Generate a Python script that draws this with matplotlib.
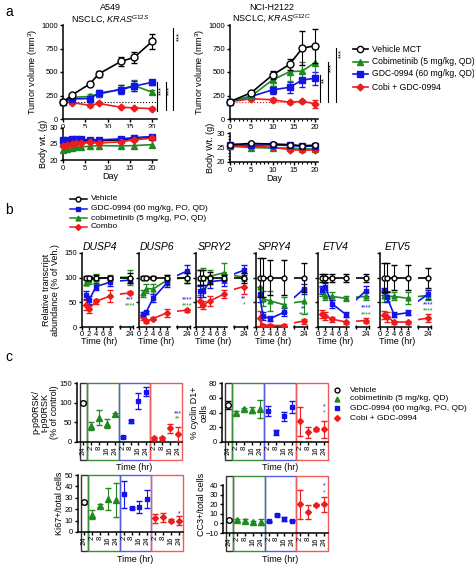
import numpy as np
import matplotlib
matplotlib.use("Agg")
import matplotlib.pyplot as plt
from matplotlib.patches import Rectangle
import matplotlib.transforms as mtransforms

plt.rcParams['font.family'] = ['Liberation Sans', 'DejaVu Sans']
plt.rcParams['mathtext.fontset'] = 'custom'
plt.rcParams['mathtext.rm'] = 'Liberation Sans'
plt.rcParams['mathtext.it'] = 'Liberation Sans:italic'
plt.rcParams['font.size'] = 6

GREEN = '#1f8a1f'
BLUE = '#1414e6'
RED = '#ee1c1c'

# ---- panel a data ----
a549_days = [0, 2, 6, 8, 13, 16, 20]
a549_veh = [178, 255, 372, 479, 612, 656, 825]
a549_veh_err = [10, 15, 25, 35, 50, 55, 75]
a549_gdc = [180, 213, 218, 275, 312, 350, 390]
a549_gdc_err = [15, 15, 30, 30, 45, 55, 30]
a549_cobi = [180, 230, 240, 262, 320, 355, 285]
a549_cobi_err = [15, 20, 25, 30, 45, 60, 20]
a549_combo = [180, 175, 145, 165, 125, 118, 110]
a549_combo_err = [15, 15, 15, 10, 10, 10, 15]

a549_bw_days = [0, 1, 2, 3, 4, 6, 8, 13, 16, 20]
a549_bw_veh = [25.6, 25.8, 26.0, 26.0, 26.0, 26.0, 26.0, 26.3, 26.8, 27.2]
a549_bw_gdc = [26.1, 26.2, 26.5, 26.5, 26.5, 26.3, 26.3, 26.6, 27.0, 27.3]
a549_bw_cobi = [23.0, 23.4, 23.8, 24.0, 24.1, 24.3, 24.5, 24.4, 24.5, 24.8]
a549_bw_combo = [24.5, 24.8, 25.0, 25.2, 25.2, 25.5, 25.3, 25.7, 26.3, 26.8]

h2122_days = [0, 5, 10, 14, 17, 20]
h2122_veh = [185, 280, 468, 581, 752, 780]
h2122_veh_err = [15, 20, 40, 60, 180, 180]
h2122_cobi = [185, 245, 415, 503, 510, 600]
h2122_cobi_err = [15, 20, 60, 100, 100, 140]
h2122_gdc = [185, 240, 310, 337, 415, 433]
h2122_gdc_err = [15, 20, 40, 60, 70, 70]
h2122_combo = [185, 215, 205, 178, 188, 162]
h2122_combo_err = [15, 15, 20, 15, 15, 40]

h2122_bw_veh = [26.0, 26.4, 26.2, 26.0, 25.6, 25.8]
h2122_bw_gdc = [26.0, 25.8, 25.9, 25.7, 25.4, 25.5]
h2122_bw_cobi = [25.4, 25.0, 24.8, 24.8, 24.5, 24.5]
h2122_bw_combo = [25.6, 25.4, 25.1, 24.3, 24.0, 24.2]

# ---- panel b data ----
genes = ['DUSP4', 'DUSP6', 'SPRY2', 'SPRY4', 'ETV4', 'ETV5']
b_times = [1, 2, 4, 8, 24]
b_veh = {g: [100, 100, 100, 100, 100] for g in genes}
b_veh_err = {'DUSP4': [3, 3, 5, 3, 10], 'DUSP6': [3, 3, 3, 5, 10], 'SPRY2': [15, 15, 12, 5, 10],
             'SPRY4': [40, 40, 35, 35, 30], 'ETV4': [8, 8, 8, 8, 8], 'ETV5': [30, 30, 25, 25, 20]}
b_gdc = {'DUSP4': [65, 55, 82, 91, 95], 'DUSP6': [27, 30, 58, 90, 113], 'SPRY2': [72, 73, 92, 95, 115],
         'SPRY4': [66, 22, 17, 30, 77], 'ETV4': [75, 82, 47, 25, 73], 'ETV5': [72, 60, 25, 29, 66]}
b_gdc_err = {'DUSP4': [8, 8, 8, 8, 5], 'DUSP6': [3, 3, 8, 8, 12], 'SPRY2': [12, 12, 12, 12, 10],
             'SPRY4': [15, 8, 5, 8, 10], 'ETV4': [8, 8, 8, 5, 10], 'ETV5': [8, 10, 5, 5, 10]}
b_cobi = {'DUSP4': [90, 95, 98, 100, 101], 'DUSP6': [68, 78, 77, 95, 100], 'SPRY2': [100, 100, 103, 110, 101],
          'SPRY4': [82, 57, 53, 45, 52], 'ETV4': [72, 62, 62, 58, 62], 'ETV5': [62, 62, 62, 58, 64]}
b_cobi_err = {'DUSP4': [5, 8, 10, 5, 15], 'DUSP6': [8, 10, 10, 10, 10], 'SPRY2': [15, 20, 12, 20, 8],
              'SPRY4': [20, 15, 20, 15, 25], 'ETV4': [10, 8, 8, 5, 8], 'ETV5': [12, 10, 8, 12, 10]}
b_combo = {'DUSP4': [45, 37, 52, 63, 69], 'DUSP6': [20, 12, 17, 29, 34], 'SPRY2': [52, 45, 53, 67, 82],
           'SPRY4': [18, 3, 3, 3, 12], 'ETV4': [27, 22, 16, 10, 13], 'ETV5': [24, 21, 10, 10, 18]}
b_combo_err = {'DUSP4': [10, 8, 5, 12, 3], 'DUSP6': [5, 3, 3, 8, 3], 'SPRY2': [12, 8, 10, 8, 15],
               'SPRY4': [15, 3, 3, 3, 5], 'ETV4': [8, 8, 5, 3, 5], 'ETV5': [8, 10, 3, 3, 8]}
b_stars_blue = {'DUSP4': ('***', 54), 'DUSP6': ('****', 55), 'SPRY2': ('**', 57),
                'SPRY4': ('**', 37), 'ETV4': ('****', 38), 'ETV5': ('****', 45)}
b_stars_green = {'DUSP4': ('****', 42), 'DUSP6': ('****', 43), 'SPRY2': ('*', 45),
                 'SPRY4': ('****', 24), 'ETV4': ('****', 24), 'ETV5': ('****', 32)}

# ---- panel c data ----
c_ticklabels = ['24', '2', '8', '16', '24', '2', '8', '16', '24', '2', '8', '16', '24']
rsk_veh, rsk_veh_err = [100], [4]
rsk_cobi, rsk_cobi_err = [40, 62, 47, 70], [10, 20, 12, 5]
rsk_gdc, rsk_gdc_err = [13, 53, 105, 128], [3, 4, 20, 12]
rsk_combo, rsk_combo_err = [9, 9, 35, 20], [4, 3, 12, 17]

cyc_veh, cyc_veh_err = [50], [5]
cyc_cobi, cyc_cobi_err = [40, 45, 44, 45], [2, 1.5, 4, 12]
cyc_gdc, cyc_gdc_err = [42, 13, 35, 48], [7, 3, 6, 8]
cyc_combo, cyc_combo_err = [28, 13, 17, 17], [20, 8, 2, 12]

ki_veh, ki_veh_err = [26], [1]
ki_cobi, ki_cobi_err = [15, 23, 29, 28], [4, 1.5, 10, 15]
ki_gdc, ki_gdc_err = [33, 21, 22, 29], [12, 1, 5, 8]
ki_combo, ki_combo_err = [12, 13, 10, 10], [4, 4, 1, 4]

cc3_veh, cc3_veh_err = [4], [1]
cc3_cobi, cc3_cobi_err = [3.5, 3, 1, 1.5], [1.5, 2, 1.5, 3]
cc3_gdc, cc3_gdc_err = [2, 9, 4.5, 3], [1, 1, 2, 1]
cc3_combo, cc3_combo_err = [20, 12, 19, 20], [15, 7, 1, 8]

W, H = 474, 568
fig = plt.figure(figsize=(W / 100, H / 100), dpi=100)


def px_ax(x0, y0, x1, y1):
    return fig.add_axes([x0 / W, 1 - y1 / H, (x1 - x0) / W, (y1 - y0) / H])


def ftext(x, y, s, **kw):
    fig.text(x / W, 1 - y / H, s, **kw)


def style(ax):
    for s in ['top', 'right']:
        ax.spines[s].set_visible(False)
    for s in ['left', 'bottom']:
        ax.spines[s].set_linewidth(1.1)
    ax.tick_params(length=2.5, width=1, pad=1, labelsize=5.5)


def draw(ax, x, y, e, color, marker, ms, mfc=None, ls='-', z=3, clip=False):
    ax.errorbar(x, y, yerr=e, color=color, marker=marker, ms=ms, ls=ls,
                mfc=mfc or color, mec=color, mew=1, lw=1.2,
                elinewidth=0.8, capsize=2, capthick=0.8, clip_on=clip, zorder=z)


# ================= panel a =================
ftext(5, 12, 'a', fontsize=10, va='center')
ftext(110, 8, 'A549', fontsize=6.5, ha='center', va='center')
ftext(110, 20, r'NSCLC, $\mathit{KRAS}^{\mathit{G12S}}$', fontsize=6.5, ha='center', va='center')
ftext(272, 7, 'NCI-H2122', fontsize=6.5, ha='center', va='center')
ftext(272, 19, r'NSCLC, $\mathit{KRAS}^{\mathit{G12C}}$', fontsize=6.5, ha='center', va='center')

# A549 tumour
ax = px_ax(63, 25, 157, 119)
style(ax)
ax.set_xlim(0, 21.1)
ax.set_ylim(0, 1000)
ax.set_xticks([0, 5, 10, 15, 20])
ax.set_yticks([0, 250, 500, 750, 1000])
ax.axhline(180, color='k', ls=':', lw=0.8, zorder=1)
draw(ax, a549_days, a549_combo, a549_combo_err, RED, 'D', 3.5)
draw(ax, a549_days, a549_cobi, a549_cobi_err, GREEN, '^', 4.5)
draw(ax, a549_days, a549_gdc, a549_gdc_err, BLUE, 's', 4.5)
draw(ax, a549_days, a549_veh, a549_veh_err, 'k', 'o', 5, mfc='white', z=4)
ax.set_ylabel('Tumor volume (mm$^3$)', fontsize=6.5, labelpad=1)
for xl, y0, y1, xs, ys in [(21.2, 390, 80, 22.1, 300), (23.1, 390, 95, 24.0, 300),
                           (24.8, 970, 95, 26.2, 880)]:
    ax.plot([xl, xl], [y0, y1], color='k', lw=0.8, clip_on=False)
    ax.text(xs, ys, '***', rotation=90, ha='center', va='center', fontsize=5.5)

# A549 body weight
ax = px_ax(63, 128, 157, 160)
style(ax)
ax.set_xlim(0, 21.1)
ax.set_ylim(20, 30)
ax.set_xticks([0, 5, 10, 15, 20])
ax.set_yticks([20, 25, 30])
draw(ax, a549_bw_days, a549_bw_cobi, None, GREEN, '^', 4)
draw(ax, a549_bw_days, a549_bw_veh, None, 'k', 'o', 4, mfc='white')
draw(ax, a549_bw_days, a549_bw_gdc, None, BLUE, 's', 4.5)
draw(ax, a549_bw_days, a549_bw_combo, None, RED, 'D', 3.5)
ax.set_ylabel('Body wt. (g)', fontsize=6.5, labelpad=1)
ax.set_xlabel('Day', fontsize=6.5, labelpad=0)

# H2122 tumour
ax = px_ax(230, 25, 318, 119)
style(ax)
ax.set_xlim(0, 20.7)
ax.set_ylim(0, 1000)
ax.set_xticks([0, 5, 10, 15, 20])
ax.set_xticks(np.arange(0, 21), minor=True)
ax.tick_params(which='minor', length=1.5, width=0.8)
ax.set_yticks([0, 250, 500, 750, 1000])
ax.axhline(185, color=RED, ls=':', lw=0.8, zorder=1)
draw(ax, h2122_days, h2122_combo, h2122_combo_err, RED, 'D', 3.5)
draw(ax, h2122_days, h2122_gdc, h2122_gdc_err, BLUE, 's', 4.5)
draw(ax, h2122_days, h2122_cobi, h2122_cobi_err, GREEN, '^', 4.5)
draw(ax, h2122_days, h2122_veh, h2122_veh_err, 'k', 'o', 5, mfc='white', z=4)
ax.set_ylabel('Tumor volume (mm$^3$)', fontsize=6.5, labelpad=1)
for xl, y0, y1, xs, ys, st in [(21.2, 468, 181, 22.2, 415, '**'), (23.1, 606, 181, 24.0, 553, '***'),
                               (24.9, 755, 181, 26.3, 702, '***')]:
    ax.plot([xl, xl], [y0, y1], color='k', lw=0.8, clip_on=False)
    ax.text(xs, ys, st, rotation=90, ha='center', va='center', fontsize=5.5)

# H2122 body weight
ax = px_ax(230, 133, 318, 162)
style(ax)
ax.set_xlim(0, 20.7)
ax.set_ylim(20, 30)
ax.set_xticks([0, 5, 10, 15, 20])
ax.set_xticks(np.arange(0, 21), minor=True)
ax.tick_params(which='minor', length=1.5, width=0.8)
ax.set_yticks([20, 25, 30])
ax.set_yticks(np.arange(20, 31), minor=True)
draw(ax, h2122_days, h2122_bw_cobi, None, GREEN, '^', 4)
draw(ax, h2122_days, h2122_bw_combo, None, RED, 'D', 3.5)
draw(ax, h2122_days, h2122_bw_gdc, None, BLUE, 's', 4.5)
draw(ax, h2122_days, h2122_bw_veh, None, 'k', 'o', 4, mfc='white')
ax.set_ylabel('Body Wt. (g)', fontsize=6.5, labelpad=1)
ax.set_xlabel('Day', fontsize=6.5, labelpad=0)

# legend a
a_leg = [('Vehicle MCT', 'k', 'o', 'white'), ('Cobimetinib (5 mg/kg, QD)', GREEN, '^', None),
         ('GDC-0994 (60 mg/kg, QD)', BLUE, 's', None), ('Cobi + GDC-0994', RED, 'D', None)]
lax = px_ax(0, 0, W, H)
lax.set_xlim(0, W)
lax.set_ylim(H, 0)
lax.axis('off')
for (lab, col, mk, fc), yy in zip(a_leg, [49, 62, 74, 87]):
    lax.plot([353, 368], [yy, yy], color=col, lw=1.2)
    lax.plot([360.5], [yy], marker=mk, color=col, mfc=fc or col, mec=col, ms=4.5 if mk != 'D' else 3.5)
    lax.text(372, yy, lab, fontsize=6.2, va='center')

# ================= panel b =================
ftext(5, 210, 'b', fontsize=10, va='center')
b_leg = [('Vehicle', 'k', 'o', 'white'), ('GDC-0994 (60 mg/kg, PO, QD)', BLUE, 's', None),
         ('cobimetinib (5 mg/kg, PO, QD)', GREEN, '^', None), ('Combo', RED, 'D', None)]
for (lab, col, mk, fc), yy in zip(b_leg, [199, 208.5, 218, 227]):
    lax.plot([70, 87], [yy, yy], color=col, lw=1.1)
    lax.plot([78.5], [yy], marker=mk, color=col, mfc=fc or col, mec=col, ms=3.5 if mk != 'D' else 3)
    lax.text(91, yy, lab, fontsize=6, va='center')

b_x0 = [82, 139, 196, 256, 318, 380]
for i, (g, x0) in enumerate(zip(genes, b_x0)):
    ax1 = px_ax(x0, 253, x0 + 31, 327)
    ax2 = px_ax(x0 + 38, 253, x0 + 51, 327)
    for ax in (ax1, ax2):
        style(ax)
        ax.set_ylim(0, 150)
        draw(ax, b_times, b_combo[g], b_combo_err[g], RED, 'D', 3, clip=True)
        draw(ax, b_times, b_cobi[g], b_cobi_err[g], GREEN, '^', 3.5, clip=True)
        draw(ax, b_times, b_gdc[g], b_gdc_err[g], BLUE, 's', 3.5, clip=True)
        draw(ax, b_times, b_veh[g], b_veh_err[g], 'k', 'o', 3.5, mfc='white', z=4, clip=True)
    ax1.set_xlim(0, 8.8)
    ax1.set_xticks([0, 2, 4, 6, 8])
    ax1.set_yticks([0, 50, 100, 150])
    ax1.tick_params(axis='x', pad=0.5)
    if i > 0:
        ax1.set_yticklabels([])
    ax2.set_xlim(18, 26)
    ax2.set_xticks([24])
    ax2.set_xticks([18, 26], minor=True)
    ax2.tick_params(which='minor', length=3, width=1, direction='inout')
    ax2.tick_params(axis='x', pad=0.5)
    ax2.spines['left'].set_visible(False)
    ax2.set_yticks([])
    st, sy = b_stars_blue[g]
    ax2.text(24, sy, st, color=BLUE, fontsize=5, ha='center', va='center')
    st, sy = b_stars_green[g]
    ax2.text(24, sy, st, color=GREEN, fontsize=5, ha='center', va='center')
    ftext(x0 + 18, 247, g, fontsize=7.5, style='italic', ha='center', va='center')
    ftext(x0 + 17, 342, 'Time (hr)', fontsize=6.5, ha='center', va='center')
ftext(51, 290, 'Relative transcript\nabundance (% of Veh.)', fontsize=6.5, rotation=90,
      ha='center', va='center', linespacing=1.05)

# ================= panel c =================
ftext(5, 357, 'c', fontsize=10, va='center')
c_boxes = [(-0.42, 0.45), (0.45, 4.5), (4.5, 8.5), (8.5, 12.5)]
c_box_colors = ['#333333', '#3a903a', '#5a5ae0', '#f05a5a']


def panel_c(x0, x1, ytop, ybot, boxbot, ylim, yticks, spine_top, ylabel, lab_x,
            veh, vehe, cobi, cobie, gdc, gdce, combo, comboe, stars):
    ax = px_ax(x0, ytop, x1, ybot)
    style(ax)
    ax.set_xlim(-0.76, 12.5)
    ax.set_ylim(*ylim)
    ax.spines['left'].set_bounds(ylim[0], spine_top)
    ax.set_yticks(yticks)
    ax.set_xticks(np.arange(13))
    ax.set_xticklabels(c_ticklabels, rotation=90, fontsize=5.5)
    ax.tick_params(axis='x', length=2, pad=1)
    fb = -(boxbot - ybot) / (ybot - ytop)
    trans = mtransforms.blended_transform_factory(ax.transData, ax.transAxes)
    for (a, b), col in zip(c_boxes, c_box_colors):
        ax.add_patch(Rectangle((a, fb), b - a, 1 - fb, transform=trans, fill=False,
                               ec=col, lw=1, clip_on=False))
    draw(ax, [0], veh, vehe, 'k', 'o', 4, mfc='white', ls='none')
    draw(ax, [1, 2, 3, 4], cobi, cobie, GREEN, '^', 4, ls='none')
    draw(ax, [5, 6, 7, 8], gdc, gdce, BLUE, 's', 3.5, ls='none')
    draw(ax, [9, 10, 11, 12], combo, comboe, RED, 'D', 3, ls='none')
    for st, col, sy in stars:
        ax.text(12, sy, st, color=col, fontsize=5, ha='center', va='center')
    ftext(lab_x, (ytop + ybot) / 2, ylabel, fontsize=6.5, rotation=90, ha='center',
          va='center', linespacing=1.05)
    ftext((x0 + x1) / 2 + 5, boxbot + 8, 'Time (hr)', fontsize=6.5, ha='center', va='center')
    return ax


panel_c(77, 182, 383, 442, 460, (0, 150), [0, 50, 100, 150], 150,
        'p-p90RSK/\nt-p90RSK\n(% of control)', 45,
        rsk_veh, rsk_veh_err, rsk_cobi, rsk_cobi_err, rsk_gdc, rsk_gdc_err, rsk_combo, rsk_combo_err,
        [('***', BLUE, 72), ('**', GREEN, 58)])
panel_c(222, 328, 383, 442, 460, (0, 80), [0, 20, 40, 60, 80], 80,
        '% cyclin D1+\ncells', 199,
        cyc_veh, cyc_veh_err, cyc_cobi, cyc_cobi_err, cyc_gdc, cyc_gdc_err, cyc_combo, cyc_combo_err,
        [('*', BLUE, 48), ('*', GREEN, 39)])
panel_c(78, 183, 475, 532, 551, (0, 50), [0, 10, 20, 30, 40, 50], 50,
        'Ki67+/total cells', 59,
        ki_veh, ki_veh_err, ki_cobi, ki_cobi_err, ki_gdc, ki_gdc_err, ki_combo, ki_combo_err,
        [('*', BLUE, 16)])
panel_c(223, 328, 476, 533, 551, (-10, 49.4), [-10, 0, 10, 20, 30, 40], 40,
        'CC3+/total cells', 201,
        cc3_veh, cc3_veh_err, cc3_cobi, cc3_cobi_err, cc3_gdc, cc3_gdc_err, cc3_combo, cc3_combo_err,
        [('*', BLUE, 39), ('*', GREEN, 32)])

c_leg = [('Vehicle', 'k', 'o', 'white'), ('cobimetinib (5 mg/kg, QD)', GREEN, '^', None),
         ('GDC-0994 (60 mg/kg, PO, QD)', BLUE, 's', None), ('Cobi + GDC-0994', RED, 'D', None)]
for (lab, col, mk, fc), yy in zip(c_leg, [390, 399, 408, 418]):
    lax.plot([337], [yy], marker=mk, color=col, mfc=fc or col, mec=col, ms=3.5 if mk != 'D' else 3)
    lax.text(350, yy, lab, fontsize=6, va='center')

fig.savefig('out.png', dpi=100)
